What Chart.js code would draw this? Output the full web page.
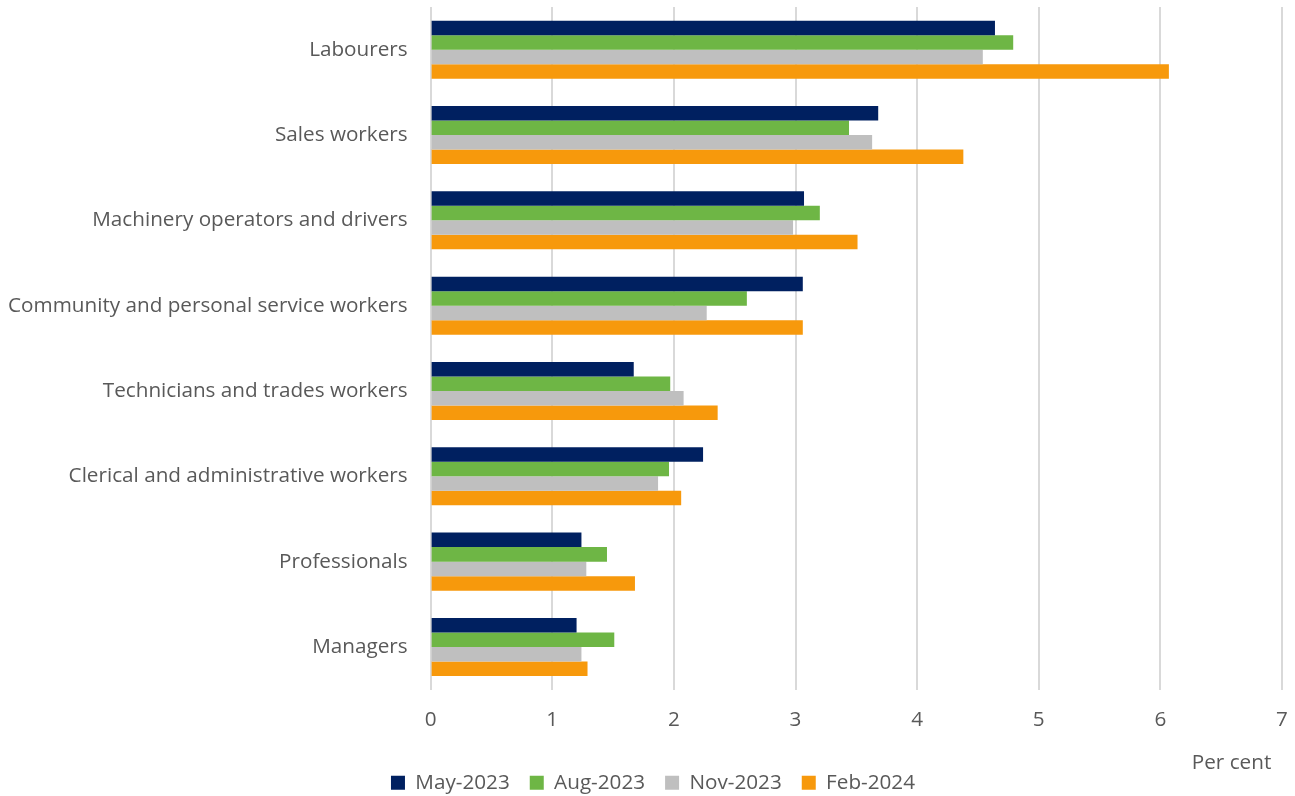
<!DOCTYPE html>
<html>
<head>
<meta charset="utf-8">
<script src="https://cdn.jsdelivr.net/npm/chart.js@4/dist/chart.umd.min.js"></script>
<style>
    html, body { margin: 0; padding: 0; background: #ffffff; }
    #wrap { width: 1295px; height: 796px; position: relative; }
</style>
</head>
<body>
<div id="wrap"><canvas id="chart"></canvas></div>
<script>
// Chart data
const categories = [
    'Labourers',
    'Sales workers',
    'Machinery operators and drivers',
    'Community and personal service workers',
    'Technicians and trades workers',
    'Clerical and administrative workers',
    'Professionals',
    'Managers'
];
const seriesNames = [ 'May-2023', 'Aug-2023', 'Nov-2023', 'Feb-2024' ];
const may2023 = [ 4.64, 3.68, 3.07, 3.06, 1.67, 2.24, 1.24, 1.20 ];
const aug2023 = [ 4.79, 3.44, 3.20, 2.60, 1.97, 1.96, 1.45, 1.51 ];
const nov2023 = [ 4.54, 3.63, 2.98, 2.27, 2.08, 1.87, 1.28, 1.24 ];
const feb2024 = [ 6.07, 4.38, 3.51, 3.06, 2.36, 2.06, 1.68, 1.29 ];
const xTicks = [ 0, 1, 2, 3, 4, 5, 6, 7 ];

const colors = [ '#002060', '#6eb645', '#bfbfbf', '#f7990c' ];
const textColor = '#595959';
const gridColor = '#d9d9d9';
const fontFamily = "'Open Sans', 'Liberation Sans', sans-serif";
const fontSize = 20.7;

const seriesValues = [ may2023, aug2023, nov2023, feb2024 ];

const datasets = seriesNames.map( ( name, i ) => ( {
    label: name,
    data: seriesValues[ i ],
    backgroundColor: colors[ i ],
    borderWidth: 0,
    categoryPercentage: 0.68,
    barPercentage: 1.0
} ) );

// Drop the automatic label-overhang margins so layout padding controls the plot area
function noOverhang ( axis )
{
    axis.paddingTop = 0;
    axis.paddingBottom = 0;
    axis.paddingLeft = 0;
    axis.paddingRight = 0;
}

// Nudge the legend a little right, it sits centred on the whole page in the original
const legendShift = {
    id: 'legendShift',
    afterLayout ( chart )
    {
        if ( chart.legend )
        {
            chart.legend.left += 8;
            chart.legend.right += 8;
        }
    }
};

const ctx = document.getElementById( 'chart' ).getContext( '2d' );
new Chart( ctx, {
    type: 'bar',
    data: { labels: categories, datasets: datasets },
    plugins: [ legendShift ],
    options: {
        indexAxis: 'y',
        responsive: true,
        maintainAspectRatio: false,
        animation: false,
        layout: { padding: { left: 8, right: 13, top: 7, bottom: -7 } },
        plugins: {
            legend: {
                position: 'bottom',
                labels: {
                    color: textColor,
                    font: { family: fontFamily, size: fontSize },
                    boxWidth: 14,
                    boxHeight: 14,
                    padding: 20
                }
            },
            tooltip: { enabled: false }
        },
        scales: {
            x: {
                min: 0,
                max: 7,
                afterBuildTicks: ( axis ) =>
                {
                    axis.ticks = xTicks.map( v => ( { value: v } ) );
                },
                afterFit: noOverhang,
                grid: {
                    color: gridColor,
                    lineWidth: 2,
                    drawTicks: false
                },
                border: { display: false },
                ticks: {
                    color: textColor,
                    font: { family: fontFamily, size: fontSize },
                    padding: 18
                },
                title: {
                    display: true,
                    text: 'Per cent  ',
                    align: 'end',
                    color: textColor,
                    font: { family: fontFamily, size: fontSize },
                    padding: { top: 0, bottom: -23 }
                }
            },
            y: {
                afterFit: ( axis ) =>
                {
                    noOverhang( axis );
                    // width counts the tick padding twice; keep it once
                    axis.width -= axis.options.ticks.padding;
                },
                grid: { display: false, drawTicks: false },
                border: { display: false },
                ticks: {
                    color: textColor,
                    font: { family: fontFamily, size: fontSize },
                    padding: 23
                }
            }
        }
    }
} );
</script>
</body>
</html>
